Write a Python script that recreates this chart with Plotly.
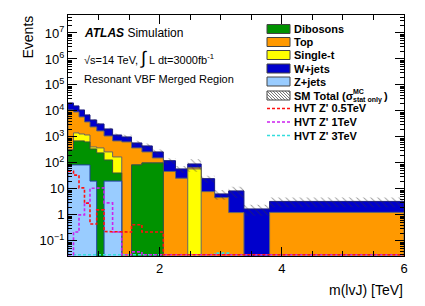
import numpy as np
import plotly.graph_objects as go

# ---------------- data ----------------
edges = [0.5, 0.59, 0.68, 0.77, 0.86, 0.97, 1.09, 1.23, 1.38, 1.54, 1.71,
         1.88, 2.06, 2.26, 2.46, 2.68, 2.90, 3.13, 3.38, 3.80, 6.0]

zjets    = [84, 84, 84, 84, 20, 0, 20, 20, 0, 0, 0, 0, 0, 0, 0, 0, 0, 0, 0, 0]
dibosons = [232, 618, 618, 558, 325, 243, 110, 21, 0, 84, 100, 100, 0, 0, 0, 0, 0, 0, 0, 0]
singlet  = [0, 728, 598, 548, 67, 135, 135, 129, 0, 0, 0, 0, 0, 0, 58.8, 0, 0, 0, 0, 0]
top      = [10584, 7720, 4580, 2590, 2018, 1322, 825, 532, 642, 294, 165, 56,
            47.1, 25.8, 8.3, 7.87, 4.63, 1.23, 0, 1.25]
wjets    = [9400, 6450, 5020, 3240, 2070, 1460, 940, 488, 358, 210, 186, 109,
            75, 33, 24.4, 17, 1.8, 7.15, 1.70, 2.06]
stat_rel = [0.06, 0.06, 0.07, 0.08, 0.09, 0.10, 0.12, 0.15, 0.20, 0.22, 0.25,
            0.25, 0.25, 0.30, 0.50, 0.30, 0.40, 0.45, 0.45, 0.40]

hvt_05 = [48, 34, 11, 2.8, 0.45, 1.56, 0.23, 0.22, 0.22, 0.42, 0.22, 0.22,
          0, 0, 0, 0, 0, 0, 0, 0]
hvt_1  = [0, 0.22, 1.0, 2.9, 10.5, 11, 2.9, 0.22, 0, 0.038, 0, 0,
          0, 0, 0, 0, 0, 0, 0, 0]
hvt_3  = [0, 0, 0, 0, 0, 0, 0, 0, 0, 0, 0, 0, 0, 0, 0, 0, 0.034, 0, 0, 0]

y_log_range = [-1.58, 7.69]

# ---------------- helpers ----------------
FONT = "Liberation Sans, Arial, Helvetica, sans-serif"
PAGE_OFF = 8              # default body margin of the html page
W, H = 425 - 2 * PAGE_OFF, 306 - 2 * PAGE_OFF
# plot area in window pixels
L, R, T, B = 68, 404, 15, 256


def px(xp):
    return (xp - L) / (R - L)


def py(yp):
    return (B - yp) / (B - T)


def step_poly(vals, floor):
    xs, ys = [edges[0]], [floor]
    for i, v in enumerate(vals):
        v = v if v > floor else floor
        xs += [edges[i], edges[i + 1]]
        ys += [v, v]
    xs.append(edges[-1])
    ys.append(floor)
    return xs, ys


def step_line(vals, floor):
    xs, ys = [], []
    for i, v in enumerate(vals):
        v = v if v > floor else floor
        xs += [edges[i], edges[i + 1]]
        ys += [v, v]
    return xs, ys


fill_floor = 1e-3
line_floor = 10 ** (y_log_range[0] + 0.05)

c1 = np.array(zjets, float)
c2 = c1 + np.array(dibosons)
c3 = c2 + np.array(singlet)
c4 = c3 + np.array(top)
c5 = c4 + np.array(wjets)

fig = go.Figure()

layers = [
    (c5, "#0000cc", "#1a1a80", "W+jets"),
    (c4, "#ff9900", "#666666", "Top"),
    (c3, "#ffff00", "#666666", "Single-t"),
    (c2, "#009200", "#3a553a", "Dibosons"),
    (c1, "#99ccff", "#2040a0", "Z+jets"),
]
for cum, fc, lc, name in layers:
    xs, ys = step_poly(cum, fill_floor)
    fig.add_trace(go.Scatter(x=xs, y=ys, mode="lines", fill="toself",
                             fillcolor=fc, line=dict(color=lc, width=1),
                             name=name, showlegend=False, hoverinfo="skip"))

# stat uncertainty band
tot = c5
up = tot * (1 + np.array(stat_rel))
lo = tot * (1 - np.array(stat_rel))
bx, byy = [], []
for i in range(len(tot)):
    bx += [edges[i], edges[i + 1]]
    byy += [up[i], up[i]]
for i in reversed(range(len(tot))):
    bx += [edges[i + 1], edges[i]]
    byy += [lo[i], lo[i]]
bx.append(bx[0]); byy.append(byy[0])
fig.add_trace(go.Scatter(x=bx, y=byy, mode="lines", fill="toself",
                         fillcolor="rgba(0,0,0,0)", line=dict(width=0),
                         fillpattern=dict(shape="\\", fgcolor="#333333",
                                          bgcolor="rgba(0,0,0,0)", size=5,
                                          solidity=0.18, fillmode="overlay"),
                         showlegend=False, hoverinfo="skip"))

# signals
for vals, col in [(hvt_3, "#33dddd"), (hvt_1, "#cc22ee"), (hvt_05, "#ff1010")]:
    xs, ys = step_line(vals, line_floor)
    fig.add_trace(go.Scatter(x=xs, y=ys, mode="lines",
                             line=dict(color=col, width=1.6, dash="3px,2px"),
                             showlegend=False, hoverinfo="skip"))

# ---------------- axes ----------------
ytv = [10.0 ** k for k in range(-1, 8)]
ytt = ["10<sup>\u22121</sup>", "1", "10"] + ["10<sup>%d</sup>" % k for k in range(2, 8)]

fig.update_xaxes(range=[0.5, 6.0], tickvals=[2, 4, 6], ticktext=["2", "4", "6"],
                 ticks="inside", ticklen=9, tickwidth=1, tickcolor="black",
                 showline=True, linecolor="black", linewidth=1, mirror="allticks",
                 showgrid=False, zeroline=False,
                 minor=dict(dtick=0.5, tick0=0, ticks="inside", ticklen=5,
                            tickcolor="black", showgrid=False),
                 tickfont=dict(family=FONT, size=13, color="black"))
fig.update_yaxes(type="log", range=y_log_range, tickvals=ytv, ticktext=ytt,
                 ticks="inside", ticklen=9, tickwidth=1, tickcolor="black",
                 showline=True, linecolor="black", linewidth=1, mirror="allticks",
                 showgrid=False, zeroline=False,
                 minor=dict(dtick="D1", ticks="inside", ticklen=4,
                            tickcolor="black", showgrid=False),
                 tickfont=dict(family=FONT, size=13, color="black"))

# ---------------- annotations ----------------
ann = []


def text(xp, yp, s, size=11, anchor="left", vanchor="middle", angle=0):
    ann.append(dict(x=px(xp), y=py(yp), xref="paper", yref="paper", text=s,
                    showarrow=False, xanchor=anchor, yanchor=vanchor,
                    textangle=angle, borderpad=0,
                    font=dict(family=FONT, size=size, color="black")))


text(27, 15, "Events", size=14, anchor="center", vanchor="top", angle=-90)
text(404, 290, "m(lvJ) [TeV]", size=14, anchor="right")
text(83, 33, "<b><i>ATLAS</i></b> Simulation", size=12)
text(83, 58, "\u221as=14 TeV, <span style='font-size:18px'>\u222b</span> L dt=3000fb<sup>-1</sup>", size=11)
text(83, 79, "Resonant VBF Merged Region", size=11)

shapes = []
leg_x0, leg_x1, tx = 267, 290, 293
box_entries = [("Dibosons", "#009200", 29), ("Top", "#ff9900", 42),
               ("Single-t", "#ffff00", 55), ("W+jets", "#0000cc", 68.5),
               ("Z+jets", "#99ccff", 81.5)]
for name, col, yc in box_entries:
    shapes.append(dict(type="rect", xref="paper", yref="paper",
                       x0=px(leg_x0), x1=px(leg_x1), y0=py(yc + 4.5), y1=py(yc - 4.5),
                       fillcolor=col, line=dict(color="#444444", width=1)))
    text(tx, yc, "<b>%s</b>" % name, size=11)

# hatched SM total box
yc = 95.5
bx0, bx1, by0, by1 = leg_x0, leg_x1, yc - 4.5, yc + 4.5
shapes.append(dict(type="rect", xref="paper", yref="paper",
                   x0=px(bx0), x1=px(bx1), y0=py(by1), y1=py(by0),
                   fillcolor="white", line=dict(color="#444444", width=1)))
hgt = by1 - by0
d = -hgt
while d < (bx1 - bx0):
    xa, ya = bx0 + d, by0
    xb, yb = bx0 + d + hgt, by1
    if xa < bx0:
        ya = by0 + (bx0 - xa); xa = bx0
    if xb > bx1:
        yb = by1 - (xb - bx1); xb = bx1
    if xb > xa:
        shapes.append(dict(type="line", xref="paper", yref="paper",
                           x0=px(xa), y0=py(ya), x1=px(xb), y1=py(yb),
                           line=dict(color="#555555", width=0.8)))
    d += 3
text(tx, yc, "<b>SM Total (\u03c3</b>", size=11)
text(352, yc - 4, "<b>MC</b>", size=7)
text(352, yc + 4.5, "<b>stat only</b>", size=7)
text(383, yc + 0.5, "<b>)</b>", size=11)

for name, col, yl in [("HVT Z' 0.5TeV", "#ff1010", 108.5),
                      ("HVT Z' 1TeV", "#cc22ee", 122),
                      ("HVT Z' 3TeV", "#33dddd", 135.5)]:
    shapes.append(dict(type="line", xref="paper", yref="paper",
                       x0=px(leg_x0), x1=px(leg_x1), y0=py(yl), y1=py(yl),
                       line=dict(color=col, width=1.6, dash="3px,2px")))
    text(tx, yl, "<b>%s</b>" % name, size=11)

fig.update_layout(width=W, height=H,
                  margin=dict(l=L - PAGE_OFF, r=(W + PAGE_OFF) - R,
                              t=T - PAGE_OFF, b=(H + PAGE_OFF) - B),
                  paper_bgcolor="white", plot_bgcolor="white",
                  annotations=ann, shapes=shapes, showlegend=False,
                  font=dict(family=FONT, color="black"))

fig.write_html("out.html")
